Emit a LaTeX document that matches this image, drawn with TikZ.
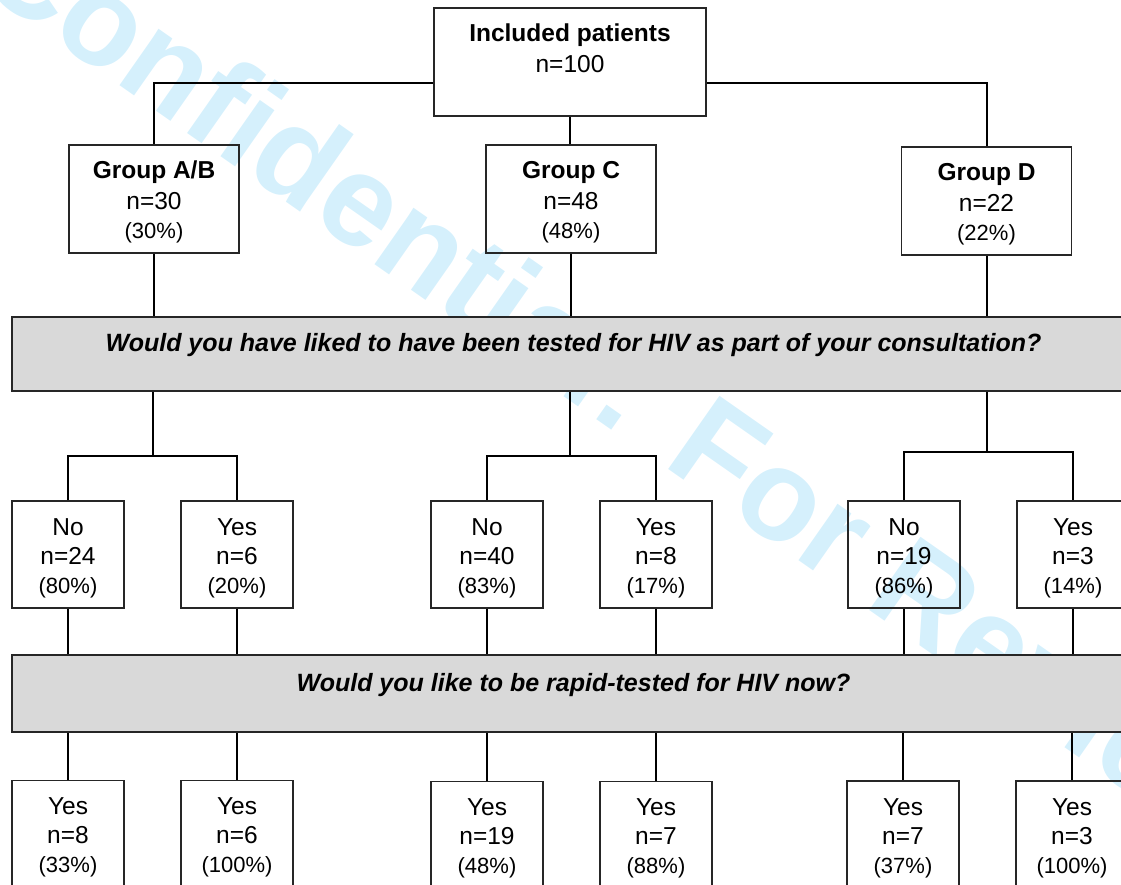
\documentclass[tikz,border=0pt]{standalone}
\usepackage{fontspec}
\setmainfont{Liberation Sans}
\usetikzlibrary{positioning}
\definecolor{barfill}{RGB}{217,217,217}
\definecolor{wmblue}{RGB}{213,240,252}
\newcommand{\tstrut}{\rule[-5pt]{0pt}{29pt}}
\newcommand{\pcnt}[1]{{\fontsize{22}{29}\selectfont(#1\%)\tstrut}}

\begin{document}
\begin{tikzpicture}[x=1pt,y=-1pt,node distance=169pt,on grid]
\useasboundingbox (0,0) rectangle (1121,885);
\tikzset{box/.style={draw=black!85,line width=1.8pt,minimum width=112pt,minimum height=107pt,inner sep=0pt,align=center,font=\fontsize{24.5}{29}\selectfont}}
\tikzset{grp/.style={box,minimum width=170pt,minimum height=108pt}}
\tikzset{bar/.style={draw=black!85,fill=barfill,line width=1.8pt,minimum width=1123pt,inner sep=0pt,align=center,font=\fontsize{25}{29}\selectfont\bfseries\itshape}}
\tikzset{wm/.style={text=wmblue,font=\fontsize{130}{150}\selectfont\bfseries,rotate=-35,anchor=base,inner sep=0pt}}
\tikzset{link/.style={line width=2pt}}
  \node[wm] (mark) at (600,422) {Confidential: For Review};
  \node[bar,minimum height=74pt] (q1) at (573.5,354) {Would you have liked to have been tested for HIV as part of your consultation?\strut\\[-13pt]\strut};
  \node[bar,minimum height=77pt] (q2) at (573.5,693.5) {Would you like to be rapid-tested for HIV now?\strut\\[-14pt]\strut};
  \node[box,minimum width=272pt,minimum height=108pt] (top) at (570,62) {\textbf{Included patients}\tstrut\\n=100\tstrut\\\tstrut};
  \node[grp] (gAB) at (154,199)   {\textbf{Group A/B}\tstrut\\n=30\tstrut\\\pcnt{30}};
  \node[grp] (gC)  at (571,199)   {\textbf{Group C}\tstrut\\n=48\tstrut\\\pcnt{48}};
  \node[grp] (gD)  at (986.5,201) {\textbf{Group D}\tstrut\\n=22\tstrut\\\pcnt{22}};
  \node[box] (noAB)  at (68,554.5)    {No\tstrut\\n=24\tstrut\\\pcnt{80}};
  \node[box] (yesAB) [right=of noAB]  {Yes\tstrut\\n=6\tstrut\\\pcnt{20}};
  \node[box] (noC)   at (487,554.5)   {No\tstrut\\n=40\tstrut\\\pcnt{83}};
  \node[box] (yesC)  [right=of noC]   {Yes\tstrut\\n=8\tstrut\\\pcnt{17}};
  \node[box] (noD)   at (904,554.5)   {No\tstrut\\n=19\tstrut\\\pcnt{86}};
  \node[box] (yesD)  [right=of noD]   {Yes\tstrut\\n=3\tstrut\\\pcnt{14}};
  \node[box] (rAB1)  at (68,834)      {Yes\tstrut\\n=8\tstrut\\\pcnt{33}};
  \node[box] (rAB2)  [right=of rAB1]  {Yes\tstrut\\n=6\tstrut\\\pcnt{100}};
  \node[box] (rC1)   at (487,835)     {Yes\tstrut\\n=19\tstrut\\\pcnt{48}};
  \node[box] (rC2)   [right=of rC1]   {Yes\tstrut\\n=7\tstrut\\\pcnt{88}};
  \node[box] (rD1)   at (903,834.5)   {Yes\tstrut\\n=7\tstrut\\\pcnt{37}};
  \node[box] (rD2)   [right=of rD1]   {Yes\tstrut\\n=3\tstrut\\\pcnt{100}};
  \coordinate (fAB) at (153,456);
  \coordinate (fC)  at (570,456);
  \coordinate (fD)  at (987,452);
  \draw[link] (gAB.north) |- ([yshift=-21pt]top.west);
  \draw[link] (gD.north) |- ([yshift=-21pt]top.east);
  \draw[link] (top.south) -- (top.south |- gC.north);
  \draw[link] (gAB.south) -- (gAB.south |- q1.north);
  \draw[link] (gC.south) -- (gC.south |- q1.north);
  \draw[link] (gD.south) -- (gD.south |- q1.north);
  \draw[link] (fAB |- q1.south) -- (fAB);
  \draw[link] (fC |- q1.south) -- (fC);
  \draw[link] (fD |- q1.south) -- (fD);
  \draw[link] (noAB.north) |- (fAB) -| (yesAB.north);
  \draw[link] (noC.north) |- (fC) -| (yesC.north);
  \draw[link] (noD.north) |- (fD) -| (yesD.north);
  \path (noAB.south)  edge[link] (noAB.south |- q2.north)
        (yesAB.south) edge[link] (yesAB.south |- q2.north)
        (noC.south)   edge[link] (noC.south |- q2.north)
        (yesC.south)  edge[link] (yesC.south |- q2.north)
        (noD.south)   edge[link] (noD.south |- q2.north)
        (yesD.south)  edge[link] (yesD.south |- q2.north);
  \path (rAB1.north) edge[link] (rAB1.north |- q2.south)
        (rAB2.north) edge[link] (rAB2.north |- q2.south)
        (rC1.north)  edge[link] (rC1.north |- q2.south)
        (rC2.north)  edge[link] (rC2.north |- q2.south)
        (rD1.north)  edge[link] (rD1.north |- q2.south)
        (rD2.north)  edge[link] (rD2.north |- q2.south);
\end{tikzpicture}
\end{document}
